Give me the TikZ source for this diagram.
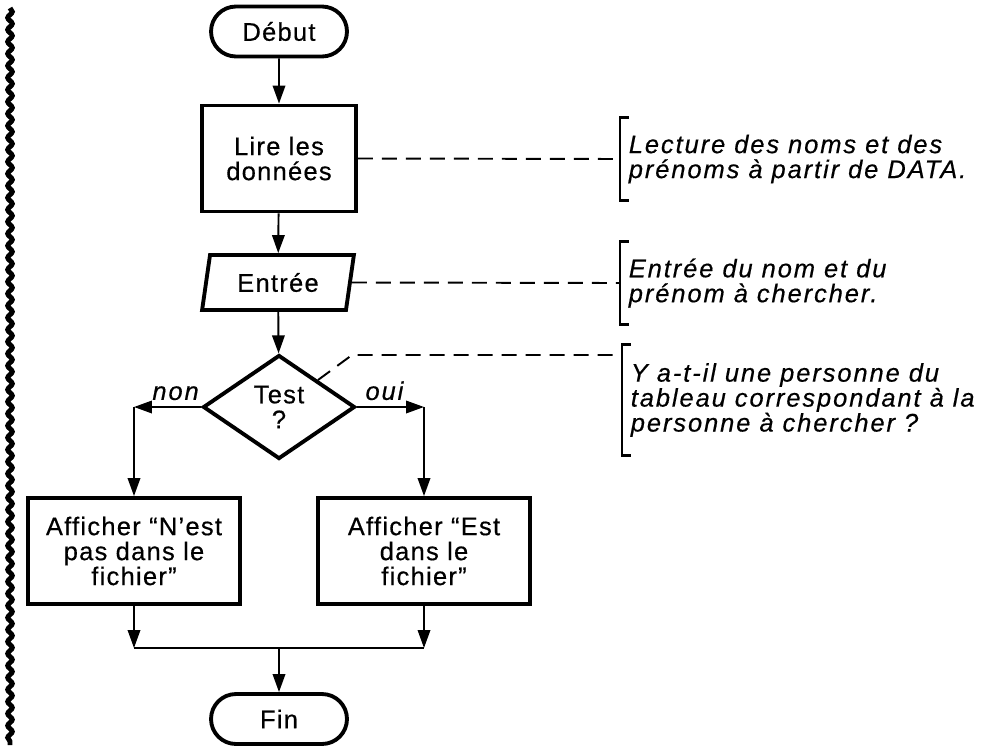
\documentclass[tikz,border=0pt]{standalone}
\usepackage{fontspec}
\setmainfont{Liberation Sans}[LetterSpace=5,FakeBold=0.45,ItalicFeatures={LetterSpace=7.5}]
\usetikzlibrary{shapes.geometric,shapes.misc,arrows.meta,decorations.pathmorphing}

\begin{document}
\begin{tikzpicture}[x=0.02cm,y=-0.02cm,
  font=\fontsize{14.5}{14.2}\selectfont,
  thickbox/.style={draw,line width=2.2pt,align=center,inner sep=0pt},
  terminal/.style={thickbox,rounded rectangle,minimum width=2.72cm,minimum height=1cm},
  process/.style={thickbox,rectangle,minimum height=2.12cm},
  io/.style={thickbox,trapezium,trapezium left angle=76,trapezium right angle=104,
    trapezium stretches=true,minimum width=3.04cm,minimum height=1.1cm},
  decision/.style={thickbox,diamond,minimum width=3.04cm,minimum height=2.08cm},
  note/.style={anchor=west,align=left,inner xsep=0.17cm,inner ysep=0pt,font=\fontsize{14.5}{14.2}\selectfont\itshape},
  flow/.style={line width=1.1pt,-{Triangle[length=0.36cm,width=0.25cm]}},
  plain/.style={line width=1.1pt},
  notelink/.style={line width=1.1pt,dash pattern=on 0.3cm off 0.18cm},
  bracket/.style={line width=1.6pt}]
\useasboundingbox (0,0) rectangle (983,747);

% Margin
\draw[line width=0.1cm,decorate,decoration={snake,amplitude=0.045cm,segment length=0.24cm}] (10,8) -- (10,745);

% Blocks
\node[terminal] (debut)  at (279,31.5) {Début};
\node[process,minimum width=3.08cm] (lire) at (279,158.5) {Lire les\\données};
\node[io] (entree) at (278,282.5) {Entrée};
\node[decision] (test) at (279,407) {Test\\?};
\node[process,minimum width=4.24cm] (nonbox) at (134,551) {Afficher “N’est\\pas dans le\\fichier”};
\node[process,minimum width=4.24cm] (ouibox) at (424,551) {Afficher “Est\\dans le\\fichier”};
\node[terminal] (fin) at (279,719) {Fin};

\coordinate (c-non) at (134,407);
\coordinate (c-oui) at (424,407);
\coordinate (m-non) at (134,648);
\coordinate (m-oui) at (424,648);
\coordinate (m-mid) at (279,648);
\coordinate (k) at (352,355);

% Comments
\node[note,minimum height=1.64cm] (note1) at (620,159) {Lecture des noms et des\\prénoms à partir de DATA.};
\node[note,minimum height=1.64cm] (note2) at (620,283) {Entrée du nom et du\\prénom à chercher.};
\node[note,minimum height=2.2cm] (note3) at (622,400) {Y a-t-il une personne du\\tableau correspondant à la\\personne à chercher ?};
\foreach \n in {note1,note2,note3}
  \draw[bracket] ([xshift=0.17cm]\n.north west) -- (\n.north west) -- (\n.south west) -- ([xshift=0.17cm]\n.south west);

% Flow
\draw[flow] (debut) -- (lire);
\draw[flow] (lire) -- (entree);
\draw[flow] (entree) -- (test);
\draw[flow] (test.west) to node[above,pos=0.38,font=\fontsize{14.5}{14.2}\selectfont\itshape] (lab-non) {non} (c-non);
\draw[flow] (test.east) to node[above,pos=0.41,font=\fontsize{14.5}{14.2}\selectfont\itshape] (lab-oui) {oui} (c-oui);
\draw[flow] (c-non) -- (nonbox);
\draw[flow] (c-oui) -- (ouibox);
\draw[flow] (nonbox) -- (m-non);
\draw[flow] (ouibox) -- (m-oui);
\draw[plain] (m-non) -- (m-oui);
\draw[flow] (m-mid) -- (fin);

% Dashed links
\draw[notelink] (lire.east) -- (note1.west);
\draw[notelink] (entree.east) -- (note2.west);
\draw[notelink] (test.north east) -- (k) -- (k -| note3.west);

\end{tikzpicture}
\end{document}
